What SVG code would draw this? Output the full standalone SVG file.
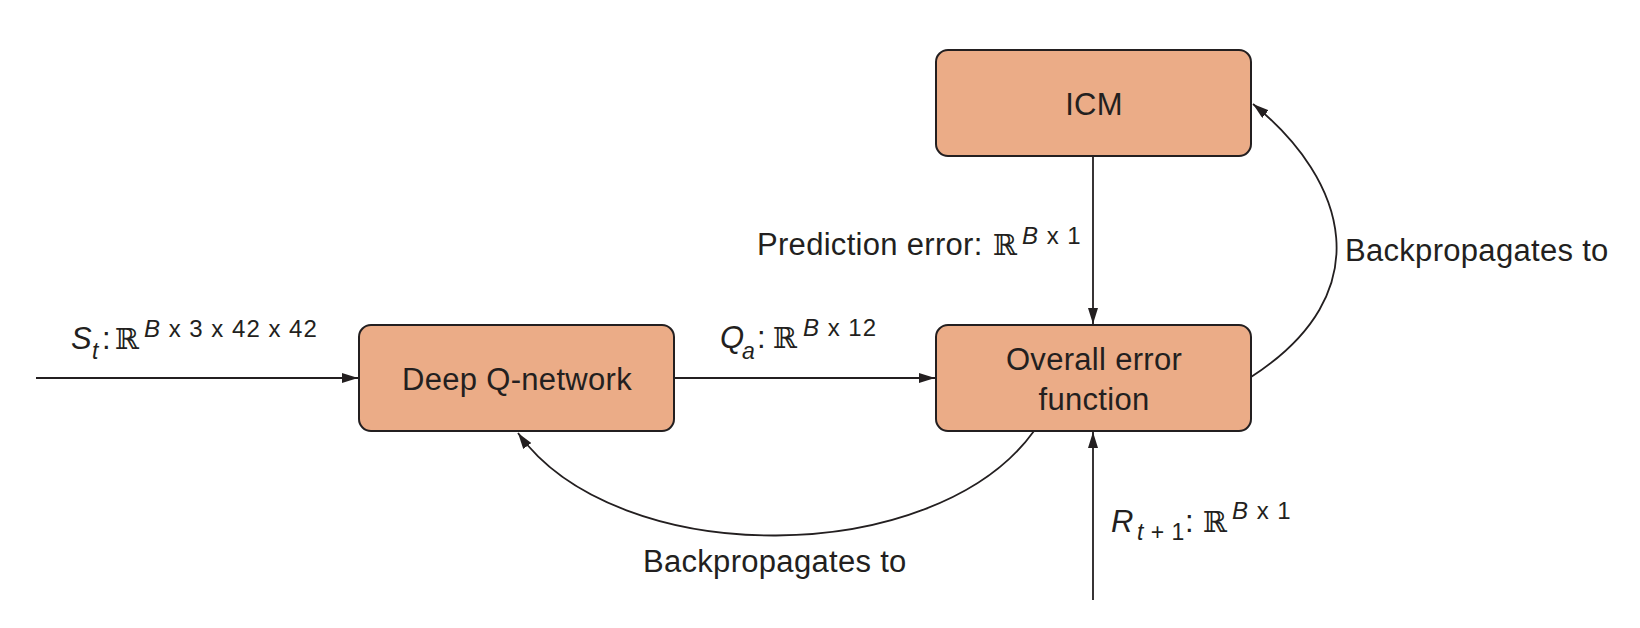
<svg xmlns="http://www.w3.org/2000/svg" width="1640" height="628" viewBox="0 0 1640 628">
<style>
.box{fill:#EBAC87;stroke:#231F20;stroke-width:2}
.t{font-family:"Liberation Sans",Arial,sans-serif;font-size:31px;letter-spacing:0.3px;fill:#231F20}
.it{font-style:italic}
.big{font-size:31px}
.sub{font-size:23px;letter-spacing:0.5px}
.sup{font-size:24px;letter-spacing:1px}
.bb{font-family:"DejaVu Serif","DejaVu Sans",serif;font-size:29px;letter-spacing:0}
.c{text-anchor:middle}
.ln{fill:none;stroke:#231F20;stroke-width:1.8}
</style>
<defs>
<marker id="ah" markerUnits="userSpaceOnUse" markerWidth="16" markerHeight="10" refX="16" refY="5" orient="auto">
<path d="M0,0 L16,5 L0,10 z" fill="#231F20"/>
</marker>
</defs>
<rect width="1640" height="628" fill="#fff"/>
<g id="connectors">
<line class="ln" x1="36" y1="378" x2="358" y2="378" marker-end="url(#ah)"/>
<line class="ln" x1="674" y1="378" x2="935" y2="378" marker-end="url(#ah)"/>
<line class="ln" x1="1093" y1="156" x2="1093" y2="324" marker-end="url(#ah)"/>
<line class="ln" x1="1093" y1="600" x2="1093" y2="432" marker-end="url(#ah)"/>
<path class="ln" d="M1251,377 C1381,293 1347.5,180.6 1253,104" marker-end="url(#ah)"/>
<path class="ln" d="M1034,431 C935,569 617,571 518,433" marker-end="url(#ah)"/>
</g>
<g id="dqn">
<rect class="box" x="359" y="325" width="315" height="106" rx="12"/>
<text class="t c" x="517" y="390">Deep Q-network</text>
</g>
<g id="overall">
<rect class="box" x="936" y="325" width="315" height="106" rx="12"/>
<text class="t c" x="1094" y="370">Overall error</text>
<text class="t c" x="1094" y="410">function</text>
</g>
<g id="icm">
<rect class="box" x="936" y="50" width="315" height="106" rx="12"/>
<text class="t c" x="1094" y="115">ICM</text>
</g>
<g id="labels">
<text class="t"><tspan class="it big" x="71" y="349">S</tspan><tspan class="it sub" x="92" y="359">t</tspan><tspan x="102" y="349">:</tspan><tspan class="bb" x="115" y="349">ℝ</tspan><tspan class="sup" x="144" y="337"><tspan class="it">B</tspan> x 3 x 42 x 42</tspan></text>
<text class="t"><tspan class="it big" x="720" y="348">Q</tspan><tspan class="it sub" x="742" y="359">a</tspan><tspan x="757" y="348">:</tspan><tspan class="bb" x="773" y="348">ℝ</tspan><tspan class="sup" x="803" y="336"><tspan class="it">B</tspan> x 12</tspan></text>
<text class="t"><tspan x="757" y="255">Prediction error:</tspan><tspan class="bb" x="993" y="255">ℝ</tspan><tspan class="sup" x="1022" y="244"><tspan class="it">B</tspan> x 1</tspan></text>
<text class="t"><tspan class="it big" x="1111" y="532">R</tspan><tspan class="sub" x="1137" y="540"><tspan class="it">t</tspan> + 1</tspan><tspan x="1185" y="532">:</tspan><tspan class="bb" x="1203" y="532">ℝ</tspan><tspan class="sup" x="1232" y="519"><tspan class="it">B</tspan> x 1</tspan></text>
<text class="t" x="1345" y="261">Backpropagates to</text>
<text class="t" x="643" y="572">Backpropagates to</text>
</g>
</svg>
